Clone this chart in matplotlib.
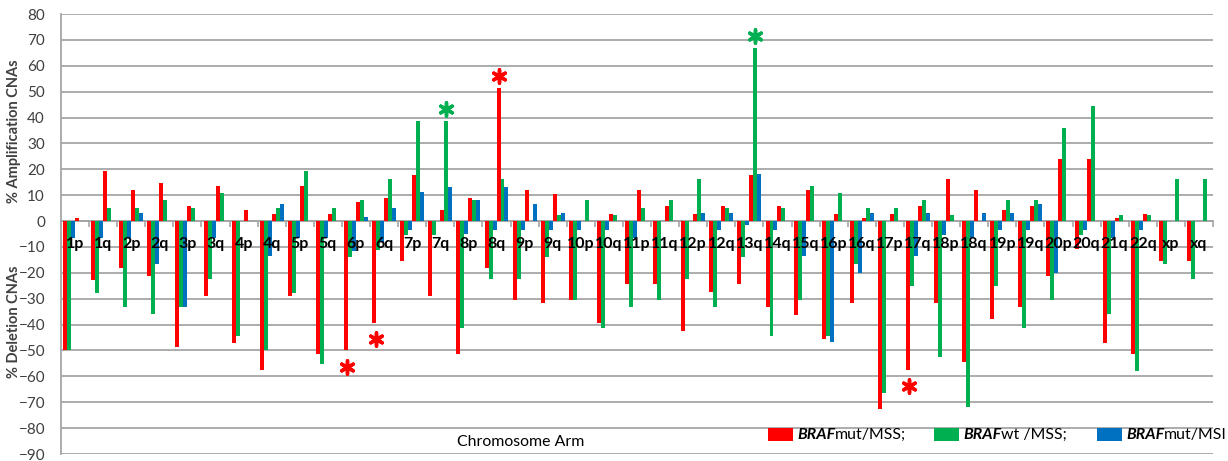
import numpy as np
import matplotlib
matplotlib.use("Agg")
import matplotlib.pyplot as plt

plt.rcParams['font.family'] = ['Lato', 'DejaVu Sans']

# -------------------------------------
# Data
# -------------------------------------
arms = ['1p', '1q', '2p', '2q', '3p', '3q', '4p', '4q', '5p', '5q', '6p', '6q',
        '7p', '7q', '8p', '8q', '9p', '9q', '10p', '10q', '11p', '11q', '12p',
        '12q', '13q', '14q', '15q', '16p', '16q', '17p', '17q', '18p', '18q',
        '19p', '19q', '20p', '20q', '21q', '22q', 'xp', 'xq']

amp_mut_mss = [1.3, 19.5, 12.0, 14.8, 5.8, 13.7, 4.3, 2.8, 13.7, 2.8, 7.5, 9.0,
               17.9, 4.3, 8.9, 51.4, 12.0, 10.5, 0, 2.8, 12.0, 5.8, 2.8,
               5.8, 17.9, 5.8, 12.0, 2.8, 1.3, 2.8, 5.8, 16.3, 12.0,
               4.3, 5.8, 24.1, 24.1, 1.3, 2.8, 0, 0]
amp_wt_mss = [0, 5.2, 5.2, 8.0, 5.2, 10.8, 0, 5.2, 19.2, 5.2, 8.0, 16.4,
              38.7, 38.7, 8.0, 16.3, 0, 2.3, 8.0, 2.3, 5.2, 8.0, 16.3,
              5.2, 66.8, 5.2, 13.5, 10.8, 5.2, 5.2, 8.0, 2.3, 0,
              8.0, 8.0, 35.9, 44.3, 2.3, 2.3, 16.3, 16.3]
amp_mut_msi = [0, 0, 3.0, 0, 0, 0, 0, 6.6, 0, 0, 1.5, 4.9,
               11.4, 13.3, 8.0, 13.3, 6.5, 3.0, 0, 0, 0, 0, 3.0,
               3.0, 18.2, 0, 0, 0, 3.0, 0, 3.0, 0, 3.0,
               3.0, 6.5, 0, 0, 0, 0, 0, 0]

del_mut_mss = [-50, -22.8, -18.2, -21.3, -48.5, -28.8, -47.2, -57.6, -28.8, -51.4, -50, -39.4,
               -15.3, -28.8, -51.4, -18.2, -30.5, -31.7, -30.5, -39.4, -24.4, -24.4, -42.6,
               -27.4, -24.4, -33.2, -36.3, -45.5, -31.7, -72.6, -57.6, -31.7, -54.5,
               -37.8, -33.2, -21.3, -10.8, -47.1, -51.4, -15.4, -15.4]
del_wt_mss = [-50, -27.8, -33.2, -36.0, -33.2, -22.2, -44.4, -50, -27.8, -55.4, -13.7, -11.1,
              -5.4, -5.4, -41.4, -22.2, -22.2, -13.7, -30.5, -41.4, -33.2, -30.5, -22.2,
              -33.2, -13.7, -44.4, -30.5, -44.4, -16.7, -66.4, -24.9, -52.6, -71.8,
              -24.9, -41.4, -30.5, -5.4, -36.0, -58.1, -16.7, -22.2]
del_mut_msi = [-6.7, -6.7, -6.7, -16.7, -33.2, -6.7, 0, -13.6, -6.7, -6.7, -11.5, -8.0,
               -3.3, 0, -5.0, -3.3, -3.3, -3.3, -3.3, -3.3, -6.7, 0, 0,
               -3.3, -1.5, -3.3, -13.6, -46.8, -20.1, 0, -13.6, -5.4, -6.7,
               -3.3, -3.3, -20.1, -3.3, -6.7, -3.3, 0, 0]

# significant arms: (arm, series key)
star_amp = [('7q', 'wt'), ('8q', 'mut'), ('13q', 'wt')]
star_del = [('6p', 'mut'), ('6q', 'mut'), ('17q', 'mut')]

RED, GREEN, BLUE = '#FF0000', '#00B050', '#0070C0'
GRID = '#a6a6a6'
TXT = '#404040'

# -------------------------------------
# Figure
# -------------------------------------
fig = plt.figure(figsize=(12.28, 4.61), dpi=100)
ax = fig.add_axes([61 / 1228, 7 / 461, (1213 - 61) / 1228, (454 - 14) / 461])

x = np.arange(len(arms))
w = 0.142
series = [(del_mut_mss, RED), (del_wt_mss, GREEN), (del_mut_msi, BLUE),
          (amp_mut_mss, RED), (amp_wt_mss, GREEN), (amp_mut_msi, BLUE)]
for i, (vals, col) in enumerate(series):
    ax.bar(x + (i - 2.5) * w, vals, width=w, color=col, linewidth=0, zorder=3)

ax.set_xlim(-0.5, len(arms) - 0.5)
ax.set_ylim(-90, 80)
ax.set_yticks(np.arange(-90, 81, 10))
ax.tick_params(axis='y', length=0, labelsize=11, labelcolor=TXT, pad=11.5)
ax.grid(axis='y', color=GRID, lw=1.3, zorder=0)

# category boundary ticks hanging off the zero line
ax.spines['bottom'].set_position(('data', 0))
ax.spines['bottom'].set_color(GRID)
ax.spines['bottom'].set_linewidth(1.3)
ax.set_xticks(np.arange(-0.5, len(arms), 1.0))
ax.set_xticklabels([])
ax.tick_params(axis='x', direction='out', length=4, color=GRID, width=1.2)
for s in ['top', 'right']:
    ax.spines[s].set_visible(False)
ax.spines['left'].set_color(GRID)
ax.spines['left'].set_linewidth(1.3)

for xi, lab in zip(x, arms):
    ax.text(xi, -8.7, lab, ha='center', va='center', fontsize=11.5,
            fontweight='bold', color='black', zorder=5)

# asterisks
off = {'mut': 3, 'wt': 4}
amp_map = {'mut': amp_mut_mss, 'wt': amp_wt_mss}
del_map = {'mut': del_mut_mss, 'wt': del_wt_mss}
col_map = {'mut': RED, 'wt': GREEN}
for arm, key in star_amp:
    k = arms.index(arm)
    ax.scatter(k + (off[key] - 2.5) * w, amp_map[key][k] + 4.7, marker=(6, 2, 0),
               s=90, linewidths=2.5, color=col_map[key], zorder=5)
for arm, key in star_del:
    k = arms.index(arm)
    ax.scatter(k + (off[key] - 3 - 2.5) * w + 0.05, del_map[key][k] - 6.3,
               marker=(6, 2, 0), s=90, linewidths=2.5, color=col_map[key],
               zorder=5)

# axis titles
tr = ax.get_yaxis_transform()
ax.text(-0.041, 34.7, '% Amplification CNAs', transform=tr, rotation=90,
        ha='center', va='center', fontsize=10.5, fontweight='bold', color=TXT)
ax.text(-0.041, -39, '% Deletion CNAs', transform=tr, rotation=90,
        ha='center', va='center', fontsize=10.5, fontweight='bold', color=TXT)
ax.text(15.87, -85.3, 'Chromosome Arm', ha='center', va='center',
        fontsize=11.4, color='black')

# -------------------------------------
# Legend (manual, mixed italic text)
# -------------------------------------
renderer = fig.canvas.get_renderer()
legend_items = [(RED, 'mut/MSS;', 768), (GREEN, 'wt /MSS;', 934), (BLUE, 'mut/MSI', 1097)]
ly = (461 - 435) / 461
for col, rest, px in legend_items:
    fig.patches.append(plt.Rectangle((px / 1228, (461 - 441) / 461), 25 / 1228, 13 / 461,
                                     transform=fig.transFigure, color=col, lw=0))
    t1 = fig.text((px + 29) / 1228, ly, 'BRAF', fontsize=11.4, style='italic',
                  fontweight='bold', color='black', va='center')
    bb = t1.get_window_extent(renderer)
    fig.text(bb.x1 / fig.bbox.width, ly, rest, fontsize=11.4,
             color='black', va='center')

fig.savefig('out.png', dpi=100)
